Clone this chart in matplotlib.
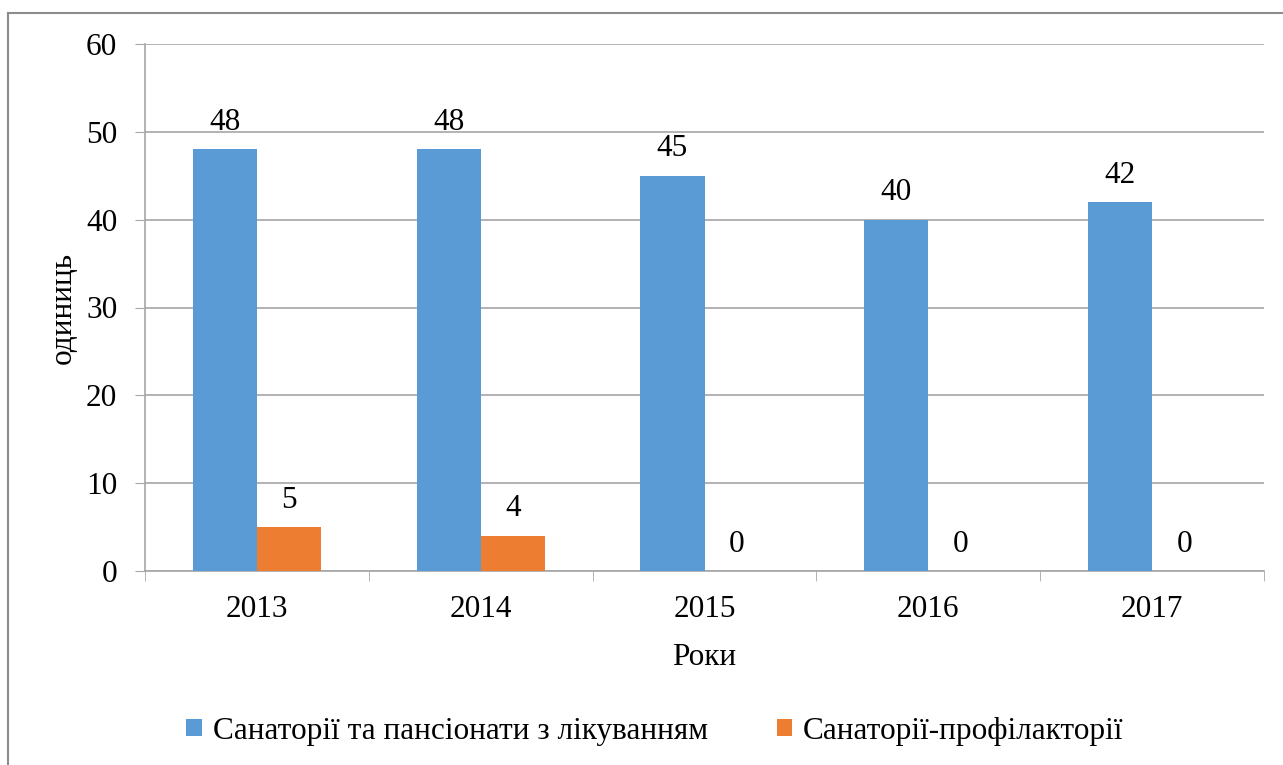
import matplotlib.pyplot as plt
from matplotlib.lines import Line2D
import numpy as np

plt.rcParams['font.family'] = ['Liberation Serif', 'DejaVu Serif']

# data
years = ['2013', '2014', '2015', '2016', '2017']
sanatoria = [48, 48, 45, 40, 42]
profilactoria = [5, 4, 0, 0, 0]
series_names = ['Санаторії та пансіонати з лікуванням', 'Санаторії-профілакторії']

blue = '#5B9BD5'
orange = '#ED7D31'
grid_col = '#A6A6A6'
fs = 22.5

fig = plt.figure(figsize=(12.83, 7.65), dpi=100)
ax = fig.add_axes([145 / 1283, 194 / 765, 1119 / 1283, 527 / 765])

x = np.arange(len(years))
w = 0.286
b1 = ax.bar(x - w / 2, sanatoria, w, color=blue, label=series_names[0], zorder=3)
b2 = ax.bar(x + w / 2, profilactoria, w, color=orange, label=series_names[1], zorder=3)
ax.bar_label(b1, padding=9, fontsize=fs)
ax.bar_label(b2, padding=9, fontsize=fs)

ax.set_xlim(-0.5, len(years) - 0.5)
ax.set_ylim(0, 60)
ax.set_yticks(range(0, 61, 10))
ax.set_xticks(x)
ax.set_xticklabels(years)
ax.set_xticks(np.arange(-0.5, len(years), 1), minor=True)
ax.tick_params(axis='x', which='major', length=0, pad=17, labelsize=fs)
ax.tick_params(axis='x', which='minor', length=7, color=grid_col, direction='out')
ax.tick_params(axis='y', length=7, color=grid_col, pad=13, labelsize=fs)

ax.grid(axis='y', color=grid_col, linewidth=1.2, zorder=0)
for s in ['top', 'right']:
    ax.spines[s].set_visible(False)
for s in ['left', 'bottom']:
    ax.spines[s].set_color(grid_col)
    ax.spines[s].set_linewidth(1.2)

ax.set_xlabel('Роки', fontsize=fs, labelpad=14)
ax.set_ylabel('одиниць', fontsize=fs, labelpad=6)

fig.legend(loc='center', bbox_to_anchor=(655 / 1283, 1 - 731 / 765), ncol=2,
           frameon=False, fontsize=fs, handlelength=0.5, handleheight=0.5,
           handletextpad=0.35, columnspacing=2.2)

# outer chart frame
fig.add_artist(Line2D([8 / 1283, 1], [1 - 13 / 765, 1 - 13 / 765], color='#8C8C8C', lw=1.5))
fig.add_artist(Line2D([8 / 1283, 8 / 1283], [0, 1 - 13 / 765], color='#8C8C8C', lw=1.5))

fig.savefig('out.png', dpi=100)
